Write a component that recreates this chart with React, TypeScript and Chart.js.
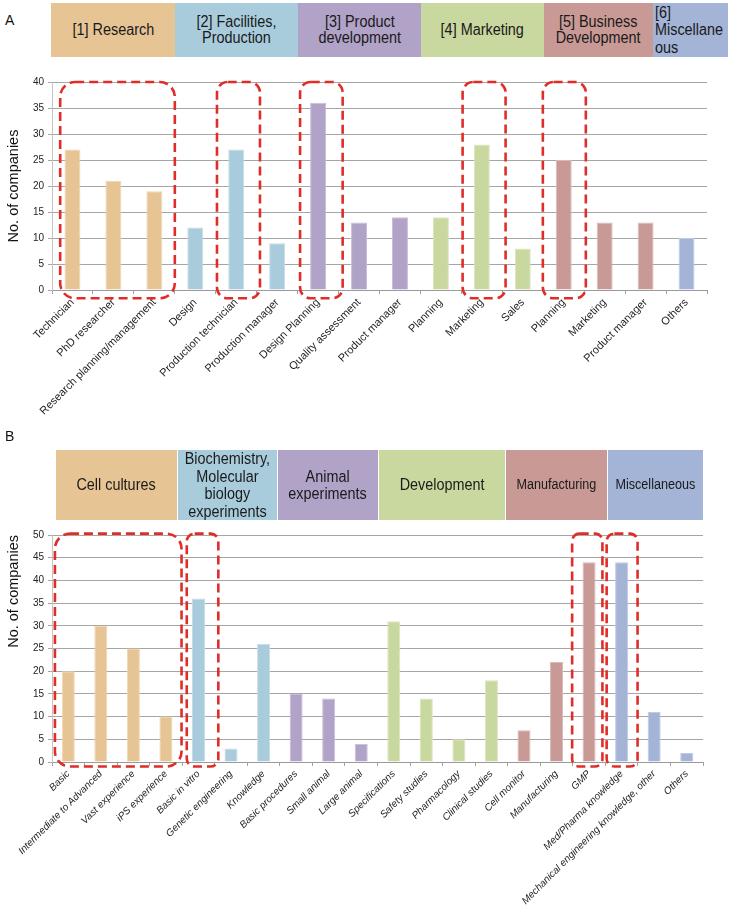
import React, { useEffect, useRef } from 'react';
import { Chart, registerables } from 'chart.js';

Chart.register(...registerables);

const FONT = '"Liberation Sans", Arial, Helvetica, sans-serif';

// ---------- Panel A data ----------
const categoriesA = [
  'Technician', 'PhD researcher', 'Research planning/management',
  'Design', 'Production technician', 'Production manager',
  'Design Planning', 'Quality assessment', 'Product manager',
  'Planning', 'Marketing', 'Sales',
  'Planning', 'Marketing', 'Product manager',
  'Others',
];
const valuesA = [27, 21, 19, 12, 27, 9, 36, 13, 14, 14, 28, 8, 25, 13, 13, 10];
const groupsA = [0, 0, 0, 1, 1, 1, 2, 2, 2, 3, 3, 3, 4, 4, 4, 5];
const headersA = [
  '[1] Research',
  '[2] Facilities,\nProduction',
  '[3] Product\ndevelopment',
  '[4] Marketing',
  '[5] Business\nDevelopment',
  '[6]\nMiscellane\nous',
];
// highlighted category ranges (in category-index units)
const highlightsA: [number, number][] = [[-0.3, 2.5], [3.53, 4.58], [5.56, 6.6], [9.53, 10.58], [11.49, 12.54]];
const yMaxA = 40;

// ---------- Panel B data ----------
const categoriesB = [
  'Basic', 'Intermediate to Advanced', 'Vast experience', 'iPS experience',
  'Basic in vitro', 'Genetic engineering', 'Knowledge',
  'Basic procedures', 'Small animal', 'Large animal',
  'Specifications', 'Safety studies', 'Pharmacology', 'Clinical studies',
  'Cell monitor', 'Manufacturing', 'GMP',
  'Med/Pharma knowledge', 'Mechanical engineering knowledge, other', 'Others',
];
const valuesB = [20, 30, 25, 10, 36, 3, 26, 15, 14, 4, 31, 14, 5, 18, 7, 22, 44, 44, 11, 2];
const groupsB = [0, 0, 0, 0, 1, 1, 1, 2, 2, 2, 3, 3, 3, 3, 4, 4, 4, 5, 5, 5];
const headersB = [
  'Cell cultures',
  'Biochemistry,\nMolecular\nbiology\nexperiments',
  'Animal\nexperiments',
  'Development',
  'Manufacturing',
  'Miscellaneous',
];
const highlightsB: [number, number][] = [[-0.41, 3.48], [3.64, 4.61], [15.48, 16.41], [16.54, 17.49]];
const yMaxB = 50;

const palette = ['#E6C494', '#A9CCDC', '#B1A2C8', '#C9D89F', '#C99A95', '#A3B4D6'];
const paletteEdge = ['#EFD6B2', '#C3DCE7', '#C8BDD9', '#DAE5BE', '#DAB8B4', '#BFCBE3'];

const highlightPlugin = {
  id: 'highlight',
  afterDatasetsDraw(chart: any, _args: any, opts: any) {
    const { ctx } = chart;
    const x = chart.scales.x;
    const y = chart.scales.y;
    ctx.save();
    ctx.strokeStyle = '#DF2E27';
    ctx.lineWidth = 2.6;
    ctx.setLineDash([9, 5]);
    for (const r of opts.ranges as [number, number][]) {
      const x0 = x.getPixelForValue(r[0]);
      const x1 = x.getPixelForValue(r[1]);
      const y0 = y.getPixelForValue(opts.top);
      const y1 = y.getPixelForValue(opts.bottom);
      const rad = Math.min(15, (x1 - x0) * 0.25);
      ctx.beginPath();
      ctx.roundRect(x0, y0, x1 - x0, y1 - y0, rad);
      ctx.stroke();
    }
    ctx.restore();
  },
};

type PanelProps = {
  labels: string[];
  values: number[];
  groups: number[];
  yMax: number;
  ranges: [number, number][];
  rangeTop: number;
  rangeBottom: number;
  canvasTop: number;
  canvasHeight: number;
  areaTop: number;
  areaBottom: number;
  areaRight: number;
  barPct: number;
  labelFont: any;
  titleAlign: 'center' | 'end';
};

function BarPanel(p: PanelProps) {
  const ref = useRef<HTMLCanvasElement>(null);
  useEffect(() => {
    if (!ref.current) return;
    const xAxisHeight = p.canvasHeight - (p.areaBottom - p.canvasTop);
    const chart = new Chart(ref.current, {
      type: 'bar',
      data: {
        labels: p.labels,
        datasets: [
          {
            data: p.values,
            backgroundColor: p.groups.map((g) => palette[g]),
            borderColor: p.groups.map((g) => paletteEdge[g]),
            borderWidth: 1,
            categoryPercentage: 1,
            barPercentage: p.barPct,
          },
        ],
      },
      options: {
        animation: false,
        responsive: false,
        devicePixelRatio: 1,
        layout: {
          padding: { top: p.areaTop - p.canvasTop, right: 731 - p.areaRight, left: 0, bottom: 0 },
        },
        plugins: {
          legend: { display: false },
          tooltip: { enabled: false },
          highlight: { ranges: p.ranges, top: p.rangeTop, bottom: p.rangeBottom },
        } as any,
        scales: {
          x: {
            offset: true,
            grid: {
              display: true,
              drawOnChartArea: false,
              drawTicks: true,
              tickLength: 4,
              offset: true,
              color: '#A0A0A0',
            },
            border: { display: true, color: '#9A9A9A', width: 1 },
            ticks: {
              autoSkip: false,
              maxRotation: 45,
              minRotation: 45,
              padding: 2,
              color: '#1E1E1E',
              font: p.labelFont,
            },
            afterFit: (s: any) => {
              s.height = xAxisHeight;
            },
          },
          y: {
            min: 0,
            max: p.yMax,
            ticks: {
              stepSize: 5,
              padding: 4,
              color: '#222',
              font: { family: FONT, size: 10 },
            },
            grid: {
              color: '#A6A6A6',
              lineWidth: 1,
              tickLength: 4,
              drawTicks: true,
            },
            border: { display: true, color: '#C4C4C4', width: 1 },
            title: {
              display: true,
              text: 'No. of companies',
              color: '#111',
              align: p.titleAlign,
              padding: { top: 5, bottom: 0 },
              font: { family: FONT, size: 14.5 },
            },
            afterFit: (s: any) => {
              s.width = 52;
            },
          },
        },
      },
      plugins: [highlightPlugin as any],
    });
    return () => chart.destroy();
  }, []);
  return (
    <canvas
      ref={ref}
      width={731}
      height={p.canvasHeight}
      style={{ position: 'absolute', left: 0, top: p.canvasTop, width: 731, height: p.canvasHeight }}
    />
  );
}

type HeaderCell = { text: string; left: number; right: number; size?: number; lh?: number; alignLeft?: boolean };

function HeaderRow({ cells, top, height, gap }: { cells: HeaderCell[]; top: number; height: number; gap: boolean }) {
  return (
    <>
      {cells.map((c, i) => (
        <div
          key={i}
          style={{
            position: 'absolute',
            left: c.left,
            top,
            width: c.right - c.left - (gap && i < cells.length - 1 ? 1 : 0),
            height,
            background: palette[i],
            display: 'flex',
            alignItems: 'center',
            justifyContent: c.alignLeft ? 'flex-start' : 'center',
            overflow: 'visible',
          }}
        >
          <span
            style={{
              display: 'inline-block',
              whiteSpace: 'pre',
              textAlign: c.alignLeft ? 'left' : 'center',
              fontFamily: FONT,
              fontSize: c.size ?? 16,
              lineHeight: `${c.lh ?? 16}px`,
              color: '#1A1A1A',
              transform: 'scaleX(0.9)',
              transformOrigin: c.alignLeft ? 'left center' : 'center center',
              marginLeft: c.alignLeft ? 2 : 0,
            }}
          >
            {c.text}
          </span>
        </div>
      ))}
    </>
  );
}

export default function App() {
  const edgesA = [51, 175, 298, 421, 544, 653, 728];
  const edgesB = [56, 178, 278, 379, 506, 608, 703];
  const cellsA: HeaderCell[] = headersA.map((t, i) => ({
    text: t,
    left: edgesA[i],
    right: edgesA[i + 1],
    lh: i === 5 ? 17.5 : 16,
    alignLeft: i === 5,
  }));
  const cellsB: HeaderCell[] = headersB.map((t, i) => ({
    text: t,
    left: edgesB[i],
    right: edgesB[i + 1],
    size: i >= 4 ? 14 : 16,
    lh: 17.5,
  }));
  return (
    <div
      style={{
        position: 'absolute',
        left: 0,
        top: 0,
        width: 731,
        height: 909,
        overflow: 'hidden',
        background: '#fff',
        fontFamily: FONT,
      }}
    >
      <div style={{ position: 'absolute', left: 5, top: 12, fontSize: 14, fontFamily: FONT, color: '#111' }}>A</div>
      <HeaderRow cells={cellsA} top={3} height={54} gap={false} />
      <BarPanel
        labels={categoriesA}
        values={valuesA}
        groups={groupsA}
        yMax={yMaxA}
        ranges={highlightsA}
        rangeTop={40}
        rangeBottom={-1.6}
        canvasTop={60}
        canvasHeight={370}
        areaTop={82}
        areaBottom={290}
        areaRight={707}
        barPct={0.39}
        labelFont={{ family: FONT, size: 11 }}
        titleAlign="center"
      />
      <div style={{ position: 'absolute', left: 5, top: 428, fontSize: 14, fontFamily: FONT, color: '#111' }}>B</div>
      <HeaderRow cells={cellsB} top={450} height={70} gap={true} />
      <BarPanel
        labels={categoriesB}
        values={valuesB}
        groups={groupsB}
        yMax={yMaxB}
        ranges={highlightsB}
        rangeTop={50.3}
        rangeBottom={-1}
        canvasTop={520}
        canvasHeight={389}
        areaTop={535}
        areaBottom={762}
        areaRight={703}
        barPct={0.4}
        labelFont={{ family: FONT, size: 10, style: 'italic' }}
        titleAlign="end"
      />
    </div>
  );
}
